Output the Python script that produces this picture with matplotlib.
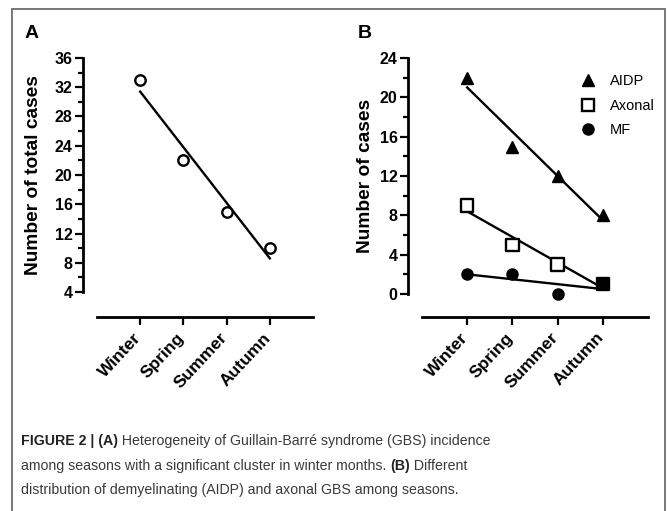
import numpy as np
import matplotlib
matplotlib.use("Agg")
import matplotlib.pyplot as plt
from matplotlib.ticker import MultipleLocator
from matplotlib.patches import Rectangle
from matplotlib.transforms import ScaledTranslation

# data
seasons = ["Winter", "Spring", "Summer", "Autumn"]
total_cases = [33, 22, 15, 10]
aidp = [22, 15, 12, 8]
axonal = [9, 5, 3, 1]
mf = [2, 2, 0, 1]

plt.rcParams['font.family'] = ['Liberation Sans', 'DejaVu Sans']

fig = plt.figure(figsize=(6.67, 5.11), dpi=100)
W, H = 667, 511


def px_axes(x0, x1, y_top, y_bot):
    return fig.add_axes([x0 / W, 1 - y_bot / H, (x1 - x0) / W, (y_bot - y_top) / H])


def style(ax, left_out, bottom_out):
    ax.spines['top'].set_visible(False)
    ax.spines['right'].set_visible(False)
    ax.spines['left'].set_position(('outward', left_out))
    ax.spines['bottom'].set_position(('outward', bottom_out))
    for s in ('left', 'bottom'):
        ax.spines[s].set_linewidth(2.0)
    ax.tick_params(axis='y', which='major', length=6, width=1.6, labelsize=11.5, pad=1.5)
    ax.tick_params(axis='y', which='minor', length=3.5, width=1.6)
    ax.tick_params(axis='x', which='major', length=6, width=1.6, labelsize=12.5, pad=2)
    ax.set_xlim(0, 5)
    x = np.arange(1, len(seasons) + 1)
    ax.set_xticks(x)
    ax.set_xticklabels(seasons, rotation=47, ha='right', rotation_mode='anchor', fontweight='bold')
    shift = ScaledTranslation(-0.07, -0.02, fig.dpi_scale_trans)
    for lab in ax.get_xticklabels():
        lab.set_transform(lab.get_transform() + shift)
    for lab in ax.get_yticklabels():
        lab.set_fontweight('bold')
    ax.patch.set_alpha(0)


x = np.arange(1, len(seasons) + 1)

# Panel A
axA = px_axes(97, 313, 58, 292)
axA.set_ylim(4, 36)
axA.yaxis.set_major_locator(MultipleLocator(4))
axA.yaxis.set_minor_locator(MultipleLocator(2))
k, b = np.polyfit(x, total_cases, 1)
axA.plot(x, k * x + b, color='black', lw=1.7, zorder=2)
axA.plot(x, total_cases, 'o', mfc='white', mec='black', mew=1.7, ms=7.5, zorder=3, clip_on=False)
style(axA, 10, 18)
axA.set_ylabel("Number of total cases", fontsize=13.8, fontweight='bold', labelpad=9)

# Panel B
axB = px_axes(422, 648, 58, 294)
axB.set_ylim(0, 24)
axB.yaxis.set_major_locator(MultipleLocator(4))
axB.yaxis.set_minor_locator(MultipleLocator(2))
for vals in (aidp, axonal, mf):
    k, b = np.polyfit(x, vals, 1)
    axB.plot(x, k * x + b, color='black', lw=1.7, zorder=2)
axB.plot(x, aidp, '^', color='black', ms=8.5, zorder=3, clip_on=False, label='AIDP')
sq_face = ['black' if a == m else 'white' for a, m in zip(axonal, mf)]
axB.scatter(x, axonal, marker='s', s=78, facecolors=sq_face, edgecolors='black', linewidths=1.7,
            zorder=3, clip_on=False)
axB.plot([], [], 's', mfc='white', mec='black', mew=1.7, ms=8.5, label='Axonal')
axB.plot(x, mf, 'o', color='black', ms=8, zorder=4, clip_on=False, label='MF')
style(axB, 10, 16.5)
axB.set_ylabel("Number of cases", fontsize=13.8, fontweight='bold', labelpad=4)
axB.legend(loc='upper right', bbox_to_anchor=(1.056, 0.955), frameon=False, fontsize=10.5,
           handletextpad=0.5, labelspacing=0.7, borderaxespad=0)

# panel letters
fig.text(25 / W, 1 - 34 / H, "A", fontsize=14, fontweight='bold', va='center')
fig.text(358 / W, 1 - 34 / H, "B", fontsize=14, fontweight='bold', va='center')

# border around the figure
fig.patches.append(Rectangle((12 / W, -0.01), (665 - 12) / W, (511 - 9) / H + 0.01,
                             transform=fig.transFigure, fill=False, ec='#777777', lw=1.4))

# caption with bold pieces
cap_lines = [
    [("FIGURE 2 | (A)", True), (" Heterogeneity of Guillain-Barré syndrome (GBS) incidence", False)],
    [("among seasons with a significant cluster in winter months. ", False), ("(B)", True),
     (" Different", False)],
    [("distribution of demyelinating (AIDP) and axonal GBS among seasons.", False)],
]
cap_y = [441, 466, 490]
fig.canvas.draw()
rend = fig.canvas.get_renderer()
for line, yy in zip(cap_lines, cap_y):
    xpx = 21
    for txt, bold in line:
        t = fig.text(xpx / W, 1 - yy / H, txt, fontsize=10.2,
                     fontweight='bold' if bold else 'normal',
                     color='#222222' if bold else '#3a3a3a', va='center')
        xpx += t.get_window_extent(rend).width

fig.savefig("out.png", dpi=100)
